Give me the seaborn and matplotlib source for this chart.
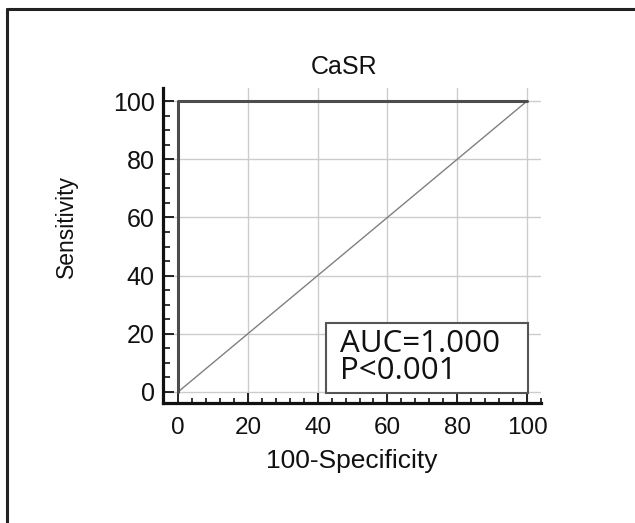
import matplotlib
matplotlib.use("Agg")
import matplotlib.pyplot as plt
import seaborn as sns
import pandas as pd
from matplotlib.lines import Line2D
from matplotlib.ticker import MultipleLocator

# Data
roc_fpr = [0, 0, 100]
roc_tpr = [0, 100, 100]
diag_x = [0, 100]
diag_y = [0, 100]
x_ticks = [0, 20, 40, 60, 80, 100]
y_ticks = [0, 20, 40, 60, 80, 100]
title = "CaSR"
xlabel = "100-Specificity"
ylabel = "Sensitivity"
auc_text = "AUC=1.000\nP<0.001"

sns.set_style("white")
plt.rcParams['font.family'] = ['Liberation Sans', 'DejaVu Sans']

fig = plt.figure(figsize=(6.35, 5.23), dpi=100)
ax = fig.add_axes([163/635, 1-403/523, (541-163)/635, (403-88)/523])

# grid
for v in x_ticks[1:]:
    ax.axvline(v, color="#cccccc", lw=1.0, zorder=0)
for v in y_ticks:
    ax.axhline(v, color="#cccccc", lw=1.0, zorder=0)

df_roc = pd.DataFrame({"fpr": roc_fpr, "tpr": roc_tpr})
df_diag = pd.DataFrame({"x": diag_x, "y": diag_y})
sns.lineplot(data=df_diag, x="x", y="y", sort=False, estimator=None, ax=ax,
             color="#808080", lw=1.0, zorder=2)
sns.lineplot(data=df_roc, x="fpr", y="tpr", sort=False, estimator=None, ax=ax,
             color="#4d4d4d", lw=2.2, zorder=3)

ax.set_xlim(-4.3, 104)
ax.set_ylim(-3.8, 104.5)
ax.set_xticks(x_ticks)
ax.set_yticks(y_ticks)
ax.xaxis.set_minor_locator(MultipleLocator(4))
ax.yaxis.set_minor_locator(MultipleLocator(5))
ax.tick_params(which="both", direction="in", color="#111111", bottom=True, left=True)
ax.tick_params(axis="x", which="major", length=7, width=1.3, labelsize=17.5, pad=10,
               labelcolor="#111111")
ax.tick_params(axis="x", which="minor", length=3.6, width=1.2)
ax.tick_params(axis="y", which="major", length=8, width=1.3, labelsize=18, pad=6,
               labelcolor="#111111")
ax.tick_params(axis="y", which="minor", length=5, width=1.2)

for s in ["top", "right"]:
    ax.spines[s].set_visible(False)
for s in ["left", "bottom"]:
    ax.spines[s].set_linewidth(2.3)
    ax.spines[s].set_color("#111111")

ax.set_xlabel(xlabel, fontsize=19, labelpad=7, color="#111111")
ax.set_ylabel(ylabel, fontsize=16.5, color="#111111")
ax.yaxis.set_label_coords(-0.224, 0.56)
ax.set_title(title, fontsize=18, pad=10, color="#111111", x=0.479)

# AUC box
ax.add_patch(plt.Rectangle((42.4, -0.3), 57.9, 24.0, fill=True, facecolor="white",
                           edgecolor="#555555", lw=1.5, zorder=4))
ax.text(46.5, 11.8, auc_text, fontsize=22.5, family=['Open Sans', 'DejaVu Sans'],
        va="center", ha="left", linespacing=0.85, color="#111111", zorder=5)

# outer border (left and top)
fig.add_artist(Line2D([7/635, 7/635], [0, 1-9/523], color="#222222", lw=2.2,
                      transform=fig.transFigure))
fig.add_artist(Line2D([7/635, 1], [1-9/523, 1-9/523], color="#222222", lw=2.2,
                      transform=fig.transFigure))

fig.savefig("out.png", dpi=100)
